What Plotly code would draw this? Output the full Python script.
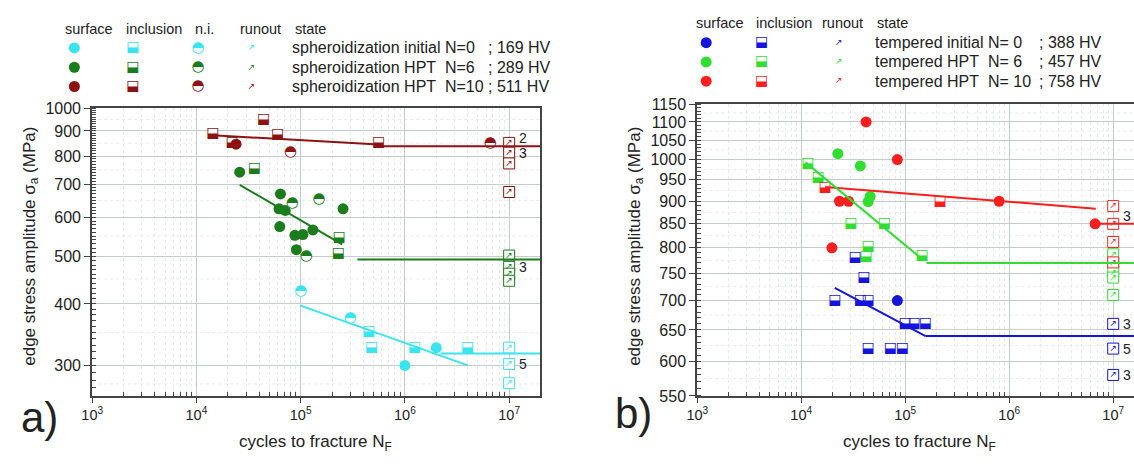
import math
import plotly.graph_objects as go

W, H = 1134, 464
RUN_N = 1e7  # runout limit (cycles)

# ---------------- a) spheroidization ----------------
a_cyan_surf_n = [1.0e6, 2.0e6]
a_cyan_surf_s = [300, 326]
a_cyan_incl_n = [4.5e5, 4.8e5, 1.24e6, 4.0e6]
a_cyan_incl_s = [351, 326, 326, 326]
a_cyan_ni_n = [1.0e5, 3.0e5]
a_cyan_ni_s = [424, 375]
a_cyan_run_s = [326, 302, 276]
a_cyan_fit_n = [1.0e5, 4.0e6]
a_cyan_fit_s = [397, 300]
a_cyan_lim_n = [2.2e6, 2.0e7]
a_cyan_lim_s = [317, 317]

a_green_surf_n = [2.6e4, 6.4e4, 6.2e4, 7.1e4, 2.55e5, 6.3e4, 8.8e4, 1.05e5, 1.31e5, 9.1e4]
a_green_surf_s = [742, 670, 625, 620, 625, 575, 552, 554, 566, 516]
a_green_incl_n = [3.6e4, 2.34e5, 2.3e5]
a_green_incl_s = [755, 547, 506]
a_green_ni_n = [8.3e4, 1.5e5, 1.13e5]
a_green_ni_s = [640, 653, 500]
a_green_run_s = [502, 476, 461, 446]
a_green_fit_n = [2.6e4, 2.5e5]
a_green_fit_s = [699, 529]
a_green_lim_n = [3.5e5, 2.0e7]
a_green_lim_s = [493, 493]

a_red_surf_n = [2.4e4]
a_red_surf_s = [846]
a_red_incl_n = [1.44e4, 2.2e4, 4.4e4, 6.0e4, 5.6e5]
a_red_incl_s = [890, 853, 951, 887, 851]
a_red_ni_n = [8.0e4, 6.6e6]
a_red_ni_s = [813, 849]
a_red_run_s = [851, 813, 773, 676]
a_red_fit_n = [1.43e4, 5.6e5]
a_red_fit_s = [882, 845]
a_red_lim_n = [5.6e5, 2.0e7]
a_red_lim_s = [838, 838]

# ---------------- b) tempered ----------------
b_blue_surf_n = [8.4e4]
b_blue_surf_s = [700]
b_blue_incl_n = [2.1e4, 3.7e4, 4.4e4, 4.0e4, 3.3e4, 1.0e5, 1.22e5, 1.56e5, 4.4e4, 7.2e4, 9.4e4]
b_blue_incl_s = [700, 700, 700, 742, 781, 660, 660, 660, 620, 620, 620]
b_blue_run_s = [660, 620, 580]
b_blue_fit_n = [2.1e4, 1.57e5]
b_blue_fit_s = [723, 640]
b_blue_lim_n = [1.57e5, 2.0e7]
b_blue_lim_s = [640, 640]

b_green_surf_n = [2.25e4, 3.7e4, 4.6e4, 4.4e4]
b_green_surf_s = [1015, 984, 911, 899]
b_green_incl_n = [1.16e4, 1.45e4, 3.0e4, 6.3e4, 4.4e4, 4.2e4, 1.45e5]
b_green_incl_s = [990, 956, 850, 850, 802, 783, 785]
b_green_run_s = [787, 770, 752, 742, 710]
b_green_fit_n = [1.1e4, 1.5e5]
b_green_fit_s = [993, 775]
b_green_lim_n = [1.6e5, 2.0e7]
b_green_lim_s = [770, 770]

b_red_surf_n = [4.2e4, 8.4e4, 2.33e4, 2.85e4, 1.97e4, 8.0e5, 6.7e6]
b_red_surf_s = [1100, 1000, 900, 900, 800, 900, 850]
b_red_incl_n = [1.7e4, 2.17e5]
b_red_incl_s = [931, 900]
b_red_run_s = [889, 850, 812, 771]
b_red_fit_n = [1.7e4, 6.8e6]
b_red_fit_s = [933, 883]
b_red_lim_n = [6.7e6, 2.0e7]
b_red_lim_s = [850, 850]

# legend texts
a_states = ["spheroidization initial N=0", "spheroidization HPT\u00a0 N=6", "spheroidization HPT\u00a0 N=10"]
a_hv = ["; 169 HV", "; 289 HV", "; 511 HV"]
b_states = ["tempered initial N= 0", "tempered HPT\u00a0 N= 6", "tempered HPT\u00a0 N= 10"]
b_hv = ["; 388 HV", "; 457 HV", "; 758 HV"]

CYAN, DGREEN, DRED = "#38e4ee", "#1b7c1b", "#8e1212"
BLUE, LGREEN, RED = "#1414dc", "#30de30", "#fa1e1e"

FONT = "Liberation Sans, Arial, sans-serif"
GLYPH = "DejaVu Sans"

fig = go.Figure()


def surface(n, s, col, xa, ya, size=11):
    fig.add_trace(go.Scatter(x=n, y=s, mode="markers", xaxis=xa, yaxis=ya,
                             marker=dict(symbol="circle", size=size, color=col, line=dict(width=0)),
                             showlegend=False, hoverinfo="skip"))


def inclusion(n, s, col, xa, ya):
    fig.add_trace(go.Scatter(x=n, y=s, mode="markers", xaxis=xa, yaxis=ya,
                             marker=dict(symbol="square", size=8, color="white", line=dict(width=0)),
                             showlegend=False, hoverinfo="skip"))
    fig.add_trace(go.Scatter(x=n, y=s, mode="text", text=["\u2b13"] * len(n), xaxis=xa, yaxis=ya,
                             textposition="middle center", cliponaxis=False,
                             textfont=dict(family=GLYPH, size=14, color=col),
                             showlegend=False, hoverinfo="skip"))


def not_init(n, s, col, xa, ya):
    fig.add_trace(go.Scatter(x=n, y=s, mode="markers", xaxis=xa, yaxis=ya,
                             marker=dict(symbol="circle", size=10, color="white", line=dict(width=0)),
                             showlegend=False, hoverinfo="skip"))
    fig.add_trace(go.Scatter(x=n, y=s, mode="text", text=["\u25d3"] * len(n), xaxis=xa, yaxis=ya,
                             textposition="middle center", cliponaxis=False,
                             textfont=dict(family=GLYPH, size=15, color=col),
                             showlegend=False, hoverinfo="skip"))


def runout(n, s, col, xa, ya, box=True):
    fig.add_trace(go.Scatter(x=n, y=s, mode="markers+text", text=["\u2197"] * len(n),
                             xaxis=xa, yaxis=ya, textposition="middle center", cliponaxis=False,
                             marker=dict(symbol="square", size=11 if box else 1, color="white",
                                         line=dict(width=1 if box else 0, color=col)),
                             textfont=dict(family=GLYPH, size=9, color=col),
                             showlegend=False, hoverinfo="skip"))


def fitline(n, s, col, xa, ya):
    fig.add_trace(go.Scatter(x=n, y=s, mode="lines", xaxis=xa, yaxis=ya,
                             line=dict(color=col, width=2), showlegend=False, hoverinfo="skip"))


# panel a
for col, sn, ss, inn, ins, nn, ns, rs in [
        (DRED, a_red_surf_n, a_red_surf_s, a_red_incl_n, a_red_incl_s, a_red_ni_n, a_red_ni_s, a_red_run_s),
        (DGREEN, a_green_surf_n, a_green_surf_s, a_green_incl_n, a_green_incl_s, a_green_ni_n, a_green_ni_s, a_green_run_s),
        (CYAN, a_cyan_surf_n, a_cyan_surf_s, a_cyan_incl_n, a_cyan_incl_s, a_cyan_ni_n, a_cyan_ni_s, a_cyan_run_s)]:
    runout([RUN_N] * len(rs), rs, col, "x", "y")
    inclusion(inn, ins, col, "x", "y")
    surface(sn, ss, col, "x", "y")
    not_init(nn, ns, col, "x", "y")

for col, fn, fs, ln, ls in [
        (DRED, a_red_fit_n, a_red_fit_s, a_red_lim_n, a_red_lim_s),
        (DGREEN, a_green_fit_n, a_green_fit_s, a_green_lim_n, a_green_lim_s),
        (CYAN, a_cyan_fit_n, a_cyan_fit_s, a_cyan_lim_n, a_cyan_lim_s)]:
    fitline(fn, fs, col, "x", "y")
    fitline(ln, ls, col, "x", "y")

# panel b
for col, sn, ss, inn, ins, rs in [
        (LGREEN, b_green_surf_n, b_green_surf_s, b_green_incl_n, b_green_incl_s, b_green_run_s),
        (RED, b_red_surf_n, b_red_surf_s, b_red_incl_n, b_red_incl_s, b_red_run_s),
        (BLUE, b_blue_surf_n, b_blue_surf_s, b_blue_incl_n, b_blue_incl_s, b_blue_run_s)]:
    runout([RUN_N] * len(rs), rs, col, "x2", "y2")
    inclusion(inn, ins, col, "x2", "y2")
    surface(sn, ss, col, "x2", "y2")

for col, fn, fs, ln, ls in [
        (RED, b_red_fit_n, b_red_fit_s, b_red_lim_n, b_red_lim_s),
        (LGREEN, b_green_fit_n, b_green_fit_s, b_green_lim_n, b_green_lim_s),
        (BLUE, b_blue_fit_n, b_blue_fit_s, b_blue_lim_n, b_blue_lim_s)]:
    fitline(fn, fs, col, "x2", "y2")
    fitline(ln, ls, col, "x2", "y2")

# legend symbols on a pixel overlay axis (x3/y3 cover the whole figure)
a_rows = [41.5, 61.5, 81.5]
b_rows = [36, 56, 76]
for i, col in enumerate([CYAN, DGREEN, DRED]):
    surface([64], [a_rows[i]], col, "x3", "y3")
    inclusion([123], [a_rows[i]], col, "x3", "y3")
    not_init([189], [a_rows[i]], col, "x3", "y3")
    runout([243], [a_rows[i]], col, "x3", "y3", box=False)
for i, col in enumerate([BLUE, LGREEN, RED]):
    surface([702], [b_rows[i]], col, "x3", "y3")
    inclusion([758], [b_rows[i]], col, "x3", "y3")
    runout([836], [b_rows[i]], col, "x3", "y3", box=False)

# ---------------- axes ----------------
dec_vals = [1e3, 1e4, 1e5, 1e6, 1e7]
dec_text = ["10<sup>%d</sup>" % e for e in range(3, 8)]
minor_x = [k * 10 ** e for e in range(3, 8) for k in range(2, 10)]

GRID = "#c3cdca"
MGRID = "#e6ebe9"
AXC = "#444444"


def xax(domain, rng, anchor):
    return dict(type="log", domain=domain, range=rng, anchor=anchor, tickvals=dec_vals, ticktext=dec_text,
                ticks="outside", ticklen=5, tickcolor=AXC, showline=True, linecolor=AXC,
                linewidth=2, mirror=True, showgrid=True, gridcolor=GRID, gridwidth=1,
                zeroline=False, tickfont=dict(family=FONT, size=14.5, color="#222"),
                minor=dict(tickvals=minor_x, ticks="inside", ticklen=4, tickcolor=AXC,
                           showgrid=True, gridcolor=MGRID, griddash="dot"))


def yax(domain, lo, hi, major, minor, anchor, mirror):
    return dict(type="log", domain=domain, range=[math.log10(lo), math.log10(hi)], anchor=anchor,
                tickvals=major, ticktext=[str(v) for v in major], ticks="outside", ticklen=6,
                tickcolor=AXC, showline=True, linecolor=AXC, linewidth=2, mirror=mirror,
                showgrid=True, gridcolor=GRID, gridwidth=1, zeroline=False,
                tickfont=dict(family=FONT, size=16, color="#222"),
                minor=dict(tickvals=minor, ticks="inside", ticklen=4, tickcolor=AXC, showgrid=False))


a_major = [300, 400, 500, 600, 700, 800, 900, 1000]
a_minor = list(range(260, 1001, 10))
b_major = list(range(550, 1151, 50))
b_minor = list(range(550, 1151, 10))

fig.update_layout(
    width=W, height=H, margin=dict(l=0, r=0, t=0, b=0),
    paper_bgcolor="white", plot_bgcolor="rgba(0,0,0,0)",
    xaxis=xax([82 / W, 534.6 / W], [3, 7.30], "y"),
    yaxis=yax([61.5 / H, 359.7 / H], 260.2, 1000, a_major, a_minor, "x", True),
    xaxis2=xax([693 / W, 1.0], [3, 7.2], "y2"),
    yaxis2=yax([61.3 / H, 364 / H], 550, 1150, b_major, b_minor, "x2", False),
    xaxis3=dict(domain=[0, 1], range=[0, W], visible=False, anchor="y3"),
    yaxis3=dict(domain=[0, 1], range=[H, 0], visible=False, anchor="x3"),
)

# faint minor horizontal grid
shapes = []
for v in [275] + [m + 50 for m in a_major[:-1]]:
    shapes.append(dict(type="line", xref="x domain", yref="y", x0=0, x1=1, y0=v, y1=v,
                       line=dict(color=MGRID, width=1, dash="dot"), layer="below"))
for v in [m + 25 for m in b_major[:-1]]:
    shapes.append(dict(type="line", xref="x2 domain", yref="y2", x0=0, x1=1, y0=v, y1=v,
                       line=dict(color=MGRID, width=1, dash="dot"), layer="below"))
fig.update_layout(shapes=shapes)

ann = []


def px(x, y, text, size, anchor="center", **kw):
    ann.append(dict(x=x / W, y=1 - y / H, xref="paper", yref="paper", text=text, showarrow=False,
                    xanchor=anchor, yanchor="middle", font=dict(family=FONT, size=size, color="#222"), **kw))


# axis titles and panel labels
ytitle = "edge stress amplitude \u03c3<sub>a</sub> (MPa)"
px(20, 247, ytitle, 17, textangle=-90)
px(631, 247, ytitle, 17, textangle=-90)
px(307, 452, "cycles to fracture N<sub>F</sub>", 17)
px(917, 452, "cycles to fracture N<sub>F</sub>", 17)
px(29, 425, "a)", 42)
px(629, 421, "b)", 42)

# legend headers and state rows
for x, t in [(79, "surface"), (144, "inclusion"), (195, "n.i."), (252, "runout")]:
    px(x, 22, t, 14.5)
px(285, 22, "state", 14.5, anchor="left")
for x, t in [(715.5, "surface"), (781, "inclusion"), (839.5, "runout")]:
    px(x, 16, t, 14.5)
px(872, 16, "state", 14.5, anchor="left")
for i in range(3):
    px(282, a_rows[i], a_states[i], 16, anchor="left")
    px(480, a_rows[i], a_hv[i], 16, anchor="left")
    px(870, b_rows[i], b_states[i], 16, anchor="left")
    px(1036, b_rows[i], b_hv[i], 16, anchor="left")

# number of runouts
for xr, yr, v, t in [("x", "y", 851, "2"), ("x", "y", 813, "3"), ("x", "y", 476, "3"),
                     ("x", "y", 302, "5"), ("x2", "y2", 868, "3"), ("x2", "y2", 660, "3"),
                     ("x2", "y2", 620, "5"), ("x2", "y2", 580, "3")]:
    ann.append(dict(x=7, y=math.log10(v), xref=xr, yref=yr, text=t, showarrow=False,
                    xanchor="left", xshift=8, yshift=5 if t == "2" else 0,
                    font=dict(family=FONT, size=14, color="#222")))

fig.update_layout(annotations=ann)
fig.write_html("out.html", config={"displayModeBar": False},
               post_script="document.body.style.margin='0px';")
